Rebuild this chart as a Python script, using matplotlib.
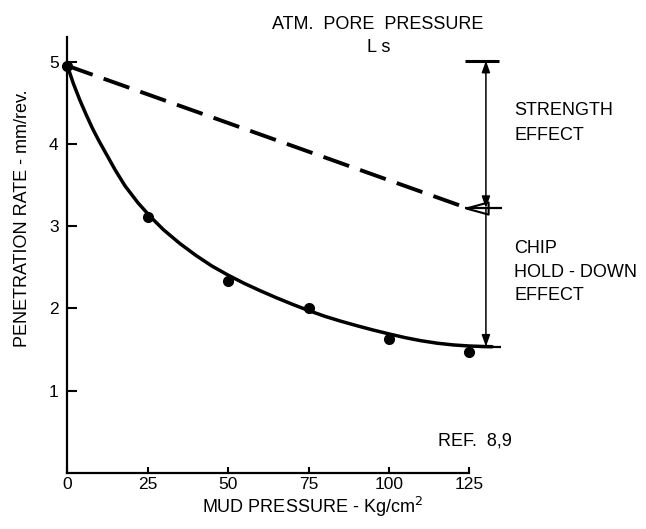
import numpy as np
import matplotlib.pyplot as plt
from matplotlib.path import Path

plt.rcParams['font.family'] = ['Liberation Sans', 'DejaVu Sans']

# measured points (mud pressure, penetration rate)
mud_pressure = [0, 25, 50, 75, 100, 125]
pen_rate = [4.95, 3.11, 2.33, 2.00, 1.63, 1.47]

# hand-drawn fitted curve
curve_x = [0, 2, 4, 6, 8, 10, 12, 15, 18, 22, 26, 30, 35, 40, 45, 50, 55, 60,
           65, 70, 75, 80, 85, 90, 95, 100, 105, 110, 115, 120, 125, 130, 132]
curve_y = [4.96, 4.73, 4.53, 4.35, 4.18, 4.03, 3.89, 3.68, 3.49, 3.285, 3.11, 2.955,
           2.79, 2.645, 2.515, 2.405, 2.305, 2.215, 2.13, 2.05, 1.975, 1.905, 1.845,
           1.79, 1.738, 1.69, 1.645, 1.607, 1.577, 1.556, 1.543, 1.536, 1.535]

# dashed "strength" line at atmospheric pore pressure
strength_x = [0, 124.2]
strength_y = [4.95, 3.22]

x_ticks = [0, 25, 50, 75, 100, 125]
y_ticks = [1, 2, 3, 4, 5]

# dimension arrows on the right
dim_x = 130.1
dim_top, dim_mid, dim_low = 5.01, 3.22, 1.535

fig = plt.figure(figsize=(6.46, 5.29), dpi=100)
ax = fig.add_axes([67 / 646, 1 - 473 / 529, 450.8 / 646, 444.4 / 529])
ax.set_xlim(0, 140)
ax.set_ylim(0, 5.4)

ax.plot(curve_x, curve_y, color='black', lw=2.5, solid_capstyle='round',
        solid_joinstyle='round', clip_on=False)
ax.plot(mud_pressure, pen_rate, 'o', color='black', ms=7, clip_on=False)
ax.plot(strength_x, strength_y, color='black', lw=2.8, dashes=(7, 3), clip_on=False)

# little open arrowhead where the dashed line meets the dimension line
tri = Path([(-1, 0), (1, 0.55), (1, -0.55), (-1, 0)],
           [Path.MOVETO, Path.LINETO, Path.LINETO, Path.CLOSEPOLY])
ax.plot([127.2], [dim_mid], marker=tri, ms=16, mfc='none', mec='black', mew=1.5, clip_on=False)

ax.hlines(dim_top, 123.6, 134.2, color='black', lw=2.2, clip_on=False)
ax.hlines(dim_mid, 123.6, 135.1, color='black', lw=1.6, clip_on=False)
ax.hlines(dim_low, 128.3, 134.7, color='black', lw=1.6, clip_on=False)
ax.annotate('', xy=(dim_x, dim_top), xytext=(dim_x, dim_mid),
            arrowprops=dict(arrowstyle='<|-|>,head_length=0.7,head_width=0.25',
                            color='black', lw=1.1, shrinkA=0, shrinkB=0))
ax.annotate('', xy=(dim_x, dim_low), xytext=(dim_x, dim_mid),
            arrowprops=dict(arrowstyle='-|>,head_length=0.7,head_width=0.25',
                            color='black', lw=1.1, shrinkA=0, shrinkB=0))

# axes styling
for s in ['top', 'right']:
    ax.spines[s].set_visible(False)
ax.spines['left'].set_bounds(0, 5.3)
ax.spines['bottom'].set_bounds(0, 125)
ax.spines['left'].set_linewidth(1.6)
ax.spines['bottom'].set_linewidth(1.6)
ax.set_xticks(x_ticks)
ax.set_yticks(y_ticks)
ax.set_xticklabels([str(v) for v in x_ticks])
ax.set_yticklabels([str(v) for v in y_ticks])
ax.tick_params(axis='y', direction='in', length=7.5, width=1.5, pad=6, labelsize=12.5)
ax.tick_params(axis='x', direction='in', length=4.5, width=1.5, pad=3, labelsize=12.5)

def ftext(px, py, s, **kw):
    fig.text(px / 646, 1 - py / 529, s, fontsize=13, **kw)

ftext(23, 218.5, 'PENETRATION RATE - mm/rev.', rotation=90, ha='center', va='center')
ftext(202, 513, 'MUD PRESSURE - Kg/cm$^2$', ha='left', va='baseline')
ftext(272, 29, 'ATM.  PORE  PRESSURE', ha='left', va='baseline')
ftext(367, 52, 'L s', ha='left', va='baseline')
ftext(514, 115, 'STRENGTH', ha='left', va='baseline')
ftext(514, 140, 'EFFECT', ha='left', va='baseline')
ftext(514, 253, 'CHIP', ha='left', va='baseline')
ftext(514, 277, 'HOLD - DOWN', ha='left', va='baseline')
ftext(514, 300, 'EFFECT', ha='left', va='baseline')
ftext(438, 445, 'REF.  8,9', ha='left', va='baseline')

fig.savefig('out.png', dpi=100)
